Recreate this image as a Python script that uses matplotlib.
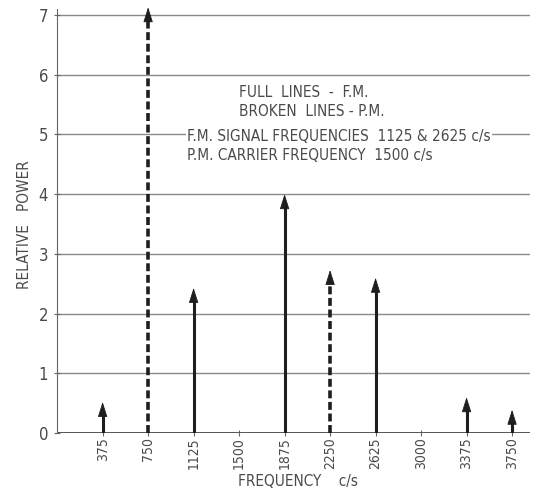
"""Relative power spectrum: F.M. (full lines) vs P.M. (broken lines)."""

import matplotlib
matplotlib.use('Agg')
import matplotlib.pyplot as plt

# F.M. components (full lines)
fm_freq = [375, 1125, 1875, 2625, 3375, 3750]
fm_power = [0.52, 2.43, 4.0, 2.6, 0.6, 0.39]

# P.M. components (broken lines)
pm_freq = [750, 2250]
pm_power = [7.13, 2.73]

x_ticks = [375, 750, 1125, 1500, 1875, 2250, 2625, 3000, 3375, 3750]
y_ticks = [0, 1, 2, 3, 4, 5, 6, 7]

notes = ['FULL  LINES  -  F.M.', 'BROKEN  LINES - P.M.']
notes2 = ['F.M. SIGNAL FREQUENCIES  1125 & 2625 c/s',
          'P.M. CARRIER FREQUENCY  1500 c/s']

plt.rcParams['font.family'] = ['DejaVu Sans']
plt.rcParams['font.stretch'] = 'condensed'
TXT = '#4a4a4a'
INK = '#1e1e1e'

fig = plt.figure(figsize=(5.34, 4.90), dpi=100)
ax = fig.add_axes([0.107, 0.1163, 0.886, 0.8775])
ax.set_xlim(0, 3900)
ax.set_ylim(0, 7.2)

# grid lines
for y in y_ticks[1:]:
    ax.axhline(y, color='#8a8a8a', lw=1.0, zorder=1)
ax.axhline(0, color='#555555', lw=1.4, zorder=2)

ax.spines['top'].set_visible(False)
ax.spines['right'].set_visible(False)
ax.spines['bottom'].set_visible(False)
ax.spines['left'].set_color('#666666')
ax.spines['left'].set_bounds(0, 7.1)

ax.set_xticks(x_ticks)
ax.set_xticklabels([str(v) for v in x_ticks], rotation=90, fontsize=10, color=TXT)
ax.set_yticks(y_ticks)
ax.set_yticklabels([str(v) for v in y_ticks], fontsize=12, color=TXT)
ax.tick_params(axis='x', length=4, direction='inout', color='#666666', pad=1)
ax.tick_params(axis='y', length=5, direction='inout', color='#666666', pad=4)

ax.set_xlabel('FREQUENCY    c/s', fontsize=11, color=TXT)
ax.set_ylabel('RELATIVE   POWER', fontsize=11, color=TXT)
ax.xaxis.set_label_coords(0.51, -0.095)
ax.yaxis.set_label_coords(-0.054, 0.484)


def spike(f, p, dashed):
    head = 0.2
    ax.vlines(f, 0, p - head, colors=INK, lw=2.6 if dashed else 2.2,
              linestyles=(0, (2.2, 1.0)) if dashed else 'solid', zorder=4)
    ax.annotate('', xy=(f, p), xytext=(f, p - head - 0.02),
                arrowprops=dict(arrowstyle='-|>,head_length=0.95,head_width=0.3',
                                color=INK, lw=0.6,
                                mutation_scale=10, shrinkA=0, shrinkB=0),
                zorder=5)


for f, p in zip(fm_freq, fm_power):
    spike(f, p, False)
for f, p in zip(pm_freq, pm_power):
    spike(f, p, True)

# legend-like notes (white boxes break the grid line at 5)
for i, s in enumerate(notes):
    ax.text(1500, 5.71 - i * 0.33, s, ha='left', va='center', fontsize=11,
            color=TXT, zorder=3)
for i, s in enumerate(notes2):
    ax.text(1072, 4.97 - i * 0.33, s, ha='left', va='center', fontsize=11,
            color=TXT, zorder=3,
            bbox=dict(facecolor='white', edgecolor='none', pad=1))

fig.savefig('out.png', dpi=100)
